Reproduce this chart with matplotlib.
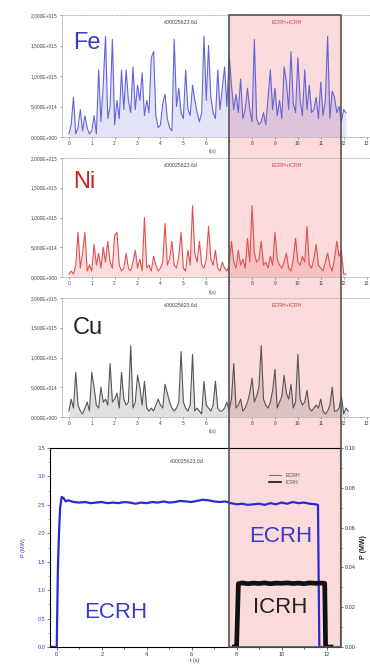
import numpy as np
import matplotlib
matplotlib.use("Agg")
import matplotlib.pyplot as plt
from matplotlib.patches import Rectangle
from matplotlib.lines import Line2D
from matplotlib.ticker import MultipleLocator

plt.rcParams['font.family'] = ['Liberation Sans', 'DejaVu Sans']

# ---- data -------------------------------------------------------------
# impurity line signals, sampled every 0.1 s, in units of 5e14
dt = 0.1
fe_vals = [0.1, 0.4, 1.3, 0.1, 0.3, 0.9, 0.2, 0.7, 0.3, 0.1,
           0.2, 0.7, 0.1, 2.2, 0.5, 1.7, 3.3, 0.6, 1.0, 3.2,
           0.4, 1.2, 0.6, 2.2, 0.9, 2.2, 1.2, 0.8, 2.3, 0.9,
           1.7, 1.2, 2.1, 0.7, 1.2, 0.8, 2.6, 2.8, 0.7, 0.3,
           0.4, 1.1, 1.4, 0.6, 0.3, 0.2, 3.2, 1.0, 1.6, 0.8,
           0.6, 2.2, 0.9, 0.7, 1.7, 1.2, 0.8, 0.5, 0.8, 3.3,
           1.2, 3.0, 1.3, 0.8, 0.6, 2.2, 0.9, 1.6, 2.3, 1.0,
           2.7, 1.7, 0.9, 1.4, 0.8, 1.9, 0.6, 0.9, 1.6, 0.9,
           0.5, 3.2, 0.6, 0.4, 0.5, 0.8, 0.4, 1.3, 2.2, 0.9,
           1.6, 0.7, 1.2, 0.6, 2.3, 1.8, 0.9, 2.8, 1.1, 0.8,
           2.6, 1.2, 0.7, 2.2, 0.9, 1.7, 0.8, 0.9, 1.3, 0.6,
           1.8, 0.7, 1.2, 3.3, 0.6, 1.5, 1.3, 0.8, 1.0, 0.5,
           0.9, 0.8]
ni_vals = [0.1, 0.2, 0.1, 0.4, 1.5, 0.3, 0.8, 1.5, 0.2, 0.4,
           0.2, 1.1, 0.4, 0.8, 0.3, 1.0, 0.5, 1.2, 0.5, 0.3,
           1.4, 1.5, 0.4, 0.2, 0.3, 0.8, 0.3, 0.2, 0.5, 0.9,
           0.3, 0.6, 0.2, 2.0, 0.3, 0.4, 0.2, 0.7, 0.4, 0.2,
           0.3, 0.5, 1.8, 0.4, 0.6, 1.2, 0.4, 0.3, 0.7, 1.5,
           0.3, 0.2, 0.9, 0.4, 2.4, 0.8, 0.5, 1.2, 0.4, 0.3,
           0.6, 1.7, 0.6, 0.4, 0.9, 0.3, 0.2, 0.5, 0.3, 0.2,
           0.4, 1.2, 0.5, 0.3, 0.9, 0.4, 0.6, 0.3, 1.3, 0.5,
           2.4, 0.8, 0.5, 0.6, 1.2, 0.4, 0.5, 0.3, 0.7, 0.4,
           1.5, 0.6, 0.4, 0.3, 0.5, 0.8, 0.3, 0.2, 0.6, 1.3,
           0.5, 0.4, 0.7, 0.5, 1.7, 0.4, 0.3, 0.6, 1.1, 0.4,
           0.3, 0.2, 0.5, 0.8, 0.4, 0.2, 0.6, 1.2, 0.7, 0.9,
           0.1, 0.1]
cu_vals = [0.2, 0.6, 0.3, 1.5, 0.4, 0.2, 0.1, 0.3, 0.5, 0.2,
           1.5, 1.0, 0.4, 0.3, 1.0, 0.5, 0.6, 0.4, 1.8, 0.5,
           0.6, 0.8, 0.3, 1.5, 0.6, 0.4, 0.5, 2.4, 0.3, 0.5,
           1.4, 1.0, 0.4, 1.2, 0.3, 0.2, 0.3, 0.2, 0.4, 0.6,
           0.4, 0.3, 1.1, 0.8, 0.5, 0.3, 0.2, 0.3, 0.5, 2.2,
           0.5, 0.3, 0.2, 0.4, 2.1, 0.2, 0.3, 0.2, 0.1, 1.2,
           0.4, 0.3, 0.2, 0.4, 1.2, 0.3, 0.2, 0.2, 0.3, 0.5,
           0.2, 0.6, 1.8, 0.3, 0.4, 0.6, 0.2, 0.3, 0.5, 0.8,
           1.3, 0.5, 0.7, 1.0, 2.4, 0.6, 0.4, 0.3, 0.5, 0.9,
           1.6, 0.3, 0.5, 0.7, 1.4, 0.8, 0.6, 1.1, 0.3, 0.5,
           2.1, 0.6, 0.4, 0.5, 0.9, 0.3, 0.2, 0.3, 0.4, 0.3,
           0.6, 0.2, 0.1, 0.2, 0.4, 1.0, 0.2, 0.2, 0.3, 0.7,
           0.1, 0.3, 0.2]
top_yticklabels = ['0,000E+000', '5,000E+014', '1,000E+015', '1,500E+015', '2,000E+015']
top_xticks = list(range(14))

# heating power traces
ecrh_t = [-0.3, 0.0, 0.05, 0.1, 0.15, 0.22, 0.3, 0.4,
          0.5, 0.75, 1.0, 1.25, 1.5, 1.75, 2.0, 2.25, 2.5, 2.75,
          3.0, 3.25, 3.5, 3.75, 4.0, 4.25, 4.5, 4.75, 5.0, 5.25,
          5.5, 5.75, 6.0, 6.25, 6.5, 6.75, 7.0, 7.25, 7.5, 7.75,
          8.0, 8.25, 8.5, 8.75, 9.0, 9.25, 9.5, 9.75, 10.0, 10.25,
          10.5, 10.75, 11.0, 11.25, 11.5, 11.62, 11.68, 12.2]
ecrh_p = [0.0, 0.0, 1.35, 2.0, 2.45, 2.64, 2.62, 2.56,
          2.58, 2.55, 2.54, 2.55, 2.53, 2.54, 2.55, 2.53, 2.54, 2.53,
          2.55, 2.54, 2.52, 2.54, 2.53, 2.55, 2.54, 2.56, 2.54, 2.55,
          2.57, 2.56, 2.55, 2.57, 2.59, 2.58, 2.56, 2.55, 2.56, 2.53,
          2.51, 2.52, 2.50, 2.51, 2.52, 2.50, 2.53, 2.51, 2.54, 2.52,
          2.55, 2.53, 2.54, 2.52, 2.51, 2.50, 0.0, 0.0]
icrh_t = [7.9, 8.0, 8.08, 8.25, 8.5, 8.75, 9.0, 9.25, 9.5, 9.75, 10.0,
          10.25, 10.5, 10.75, 11.0, 11.25, 11.5, 11.75, 11.92, 11.96, 12.2]
icrh_p = [0.0, 0.0, 0.0318, 0.0322, 0.0318, 0.0321, 0.0319, 0.0322, 0.0318, 0.0321, 0.0320,
          0.0322, 0.0319, 0.0321, 0.0318, 0.0322, 0.0320, 0.0321, 0.0320, 0.0, 0.0]

# ---- figure -----------------------------------------------------------
W, H = 370, 670
fig = plt.figure(figsize=(W / 100, H / 100), dpi=100)


def px_axes(left, top, right, bottom):
    a = fig.add_axes([left / W, 1 - bottom / H, (right - left) / W, (bottom - top) / H])
    a.set_facecolor('none')
    return a


# shaded ECRH+ICRH window behind all panels, border on top
win = (229 / W, 1 - 647 / H, 112 / W, 632 / H)
fig.add_artist(Rectangle(win[:2], win[2], win[3], transform=fig.transFigure,
                         facecolor='#fadada', edgecolor='none', zorder=-1))
fig.add_artist(Rectangle(win[:2], win[2], win[3], transform=fig.transFigure,
                         fill=False, edgecolor='#555555', lw=1.2, zorder=5))

panels = [
    ('Fe', fe_vals, '#6464d8', '#3c3cc0', 15, 137, 0.77),
    ('Ni', ni_vals, '#e05050', '#d01e1e', 158, 277, 0.80),
    ('Cu', cu_vals, '#555555', '#222222', 298, 417, 0.75),
]

for name, vals, lc, tc, top, bot, ly in panels:
    ax = px_axes(62, top, 378, bot)
    t = np.arange(len(vals)) * dt
    ax.fill_between(t, 0, vals, color=lc, alpha=0.18, lw=0)
    ax.plot(t, vals, color=lc, lw=0.8)
    ax.set_xlim(-0.3, 13.5)
    ax.set_ylim(0, 4)
    ax.set_xticks(top_xticks)
    ax.set_yticks(range(5))
    ax.set_yticklabels(top_yticklabels)
    ax.tick_params(labelsize=3.5, length=1.5, width=0.4, colors='#444444', pad=1.5)
    for s in ax.spines.values():
        s.set_color('#bbbbbb')
        s.set_linewidth(0.6)
    ax.spines['top'].set_linestyle('--')
    ax.spines['right'].set_visible(False)
    ax.text(0.035, ly, name, transform=ax.transAxes, color=tc, fontsize=17,
            ha='left', va='center')
    ax.text(4.9, 3.75, '#00025623.6d', color='#444444', fontsize=3.8, ha='center', va='center')
    ax.text(9.5, 3.75, 'ECRH+ICRH', color='#d04040', fontsize=3.8, ha='center', va='center')
    fig.text(213 / W, 1 - (bot + 15) / H, 't(s)', fontsize=3.8, color='#444444',
             ha='center', va='center')

# bottom panel: heating power
axb = px_axes(50, 448, 340, 647)
axb.plot(ecrh_t, ecrh_p, color='#2a2ad2', lw=1.6)
axb.set_xlim(-0.3, 12.6)
axb.set_ylim(0, 3.5)
axb.xaxis.set_major_locator(MultipleLocator(2))
axb.xaxis.set_minor_locator(MultipleLocator(1))
axb.yaxis.set_major_locator(MultipleLocator(0.5))
axb.yaxis.set_minor_locator(MultipleLocator(0.25))
axb.tick_params(axis='y', labelsize=4, colors='#3a3ad0', length=2, width=0.5, pad=1.5)
axb.tick_params(axis='y', which='minor', length=1.2, width=0.4, colors='#888888')
axb.tick_params(axis='x', labelsize=4, colors='#333333', length=2, width=0.5, pad=1.5)
axb.tick_params(axis='x', which='minor', length=1.2, width=0.4)
axb.set_xlabel('t (s)', fontsize=4, color='#333333', labelpad=1)
axb.set_ylabel('P (MW)', fontsize=4, color='#3a3ad0', labelpad=8)
for s in axb.spines.values():
    s.set_color('#999999')
    s.set_linewidth(0.6)
axb.spines['bottom'].set_color('#333333')

axr = axb.twinx()
axr.set_facecolor('none')
axr.plot(icrh_t, icrh_p, color='#111111', lw=3.4)
axr.set_ylim(0, 0.10)
axr.yaxis.set_major_locator(MultipleLocator(0.02))
axr.yaxis.set_minor_locator(MultipleLocator(0.01))
axr.tick_params(axis='y', labelsize=4, colors='#333333', length=2, width=0.5, pad=1.5)
axr.tick_params(axis='y', which='minor', length=1.2, width=0.4)
axr.set_ylabel('P (MW)', fontsize=5, fontweight='bold', color='#222222', labelpad=3)
axr.spines['right'].set_color('#444444')

axb.text(5.8, 3.27, '#00025623.6d', color='#444444', fontsize=3.8, ha='center', va='center')
axb.text(1.2, 0.6, 'ECRH', color='#3a3ac8', fontsize=16, ha='left', va='center')
axb.text(8.55, 1.95, 'ECRH', color='#3a3ac8', fontsize=16, ha='left', va='center')
axb.text(8.75, 0.69, 'ICRH', color='#222222', fontsize=16, ha='left', va='center')

handles = [Line2D([], [], color='#555555', lw=0.6), Line2D([], [], color='#111111', lw=1.2)]
axb.legend(handles, ['ECRH', 'ICRH'], loc='upper left', bbox_to_anchor=(0.74, 0.9),
           frameon=False, fontsize=3.8, handlelength=2.2, labelspacing=0.5, labelcolor='#555555')

fig.savefig('out.png', dpi=100)
